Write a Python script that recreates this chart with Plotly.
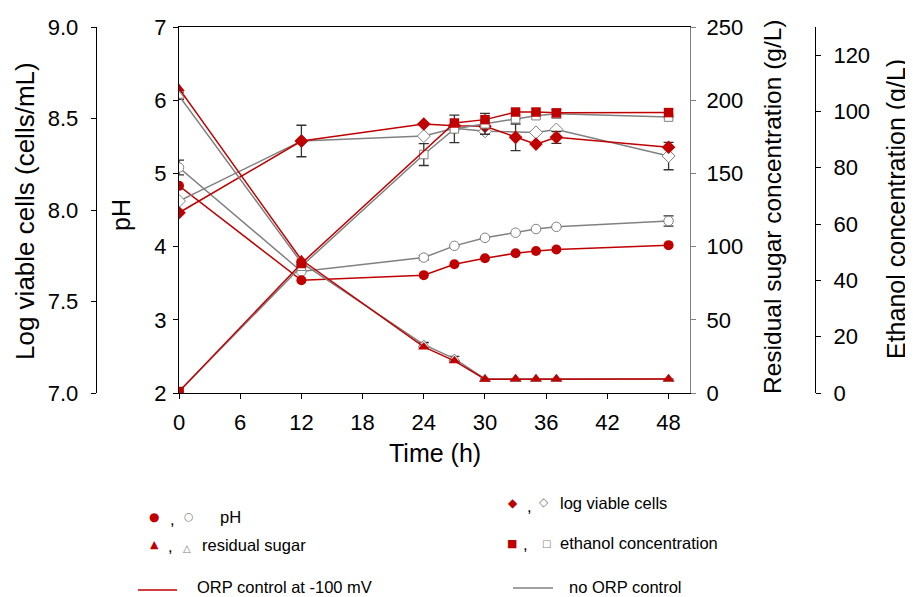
import plotly.graph_objects as go

# The page body adds an 8px margin, so the figure is sized to fit the rest
OFF = 8
W, H = 913 - OFF, 597 - OFF

# ---------------- data ----------------
time_h = [0, 12, 24, 27, 30, 33, 35, 37, 48]

ph_orp = [4.83, 3.54, 3.61, 3.76, 3.84, 3.91, 3.94, 3.96, 4.02]
ph_no = [5.08, 3.66, 3.85, 4.01, 4.12, 4.19, 4.24, 4.27, 4.35]
ph_no_err = [0.10, 0, 0.03, 0, 0, 0, 0, 0, 0.07]

sugar_orp = [208, 91, 31.5, 22, 9.4, 9.5, 9.5, 9.5, 9.5]
sugar_no = [203, 89, 33, 23.5, 9.6, 9.6, 9.6, 9.6, 9.6]
sugar_no_err = [2.5, 0, 1.5, 1.5, 0, 0, 0, 0, 0]

logc_orp = [7.985, 8.377, 8.47, 8.46, 8.457, 8.397, 8.36, 8.397, 8.343]
logc_orp_err = [0, 0.086, 0, 0, 0, 0.073, 0, 0.033, 0]
logc_no = [8.049, 8.377, 8.404, 8.447, 8.43, None, 8.424, 8.44, 8.295]
logc_no_err = [0, 0, 0, 0, 0, 0, 0, 0, 0.075]

eth_orp = [0.5, 46, None, 95.9, 97.1, 99.8, 99.8, 99.5, 99.6]
eth_no = [0.5, 45, 84.7, 93.8, 95.6, 97.4, 98.5, 99.2, 98.0]
eth_no_err = [0, 0, 3.9, 4.9, 3.7, 0, 0, 1.5, 0]

x_ticks = [0, 6, 12, 18, 24, 30, 36, 42, 48]

RED = "#C00000"
GRAY = "#808080"
ERR = "#333333"
FONT = "Liberation Sans, Arial, sans-serif"
SYM = "DejaVu Sans"


def px(x):
    return (x - OFF) / W


def py(y):
    return 1 - (y - OFF) / H


fig = go.Figure()


def add(y, yaxis, red, symbol, size, err=None):
    if red:
        marker = dict(color=RED, symbol=symbol, size=size, line=dict(width=0))
        line = dict(color=RED, width=1.5)
    else:
        marker = dict(color="white", symbol=symbol, size=size,
                      line=dict(color=GRAY, width=1))
        line = dict(color=GRAY, width=1.5)
    kw = {}
    if err is not None:
        kw["error_y"] = dict(type="data", array=err, visible=True,
                             color=ERR, thickness=1.3, width=5)
    fig.add_trace(go.Scatter(x=time_h, y=y, yaxis=yaxis, mode="lines+markers",
                             marker=marker, line=line, connectgaps=True,
                             showlegend=False, hoverinfo="skip", **kw))


# pH
add(ph_no, "y", False, "circle", 9.5, ph_no_err)
add(ph_orp, "y", True, "circle", 10)
# log viable cells
add(logc_no, "y2", False, "diamond", 10, logc_no_err)
add(logc_orp, "y2", True, "diamond", 10.5, logc_orp_err)
# residual sugar
add(sugar_no, "y3", False, "triangle-up", 9.5, sugar_no_err)
add(sugar_orp, "y3", True, "triangle-up", 10)
# ethanol
add(eth_no, "y4", False, "square", 8.5, eth_no_err)
add(eth_orp, "y4", True, "square", 9.5)

tickfont = dict(family=FONT, size=22, color="black")
x0, x1 = px(179), px(690)
y0, y1 = py(393), py(27)

fig.update_layout(
    width=W, height=H,
    margin=dict(l=0, r=0, t=0, b=0, autoexpand=False),
    paper_bgcolor="white", plot_bgcolor="white",
    font=dict(family=FONT, color="black"),
    xaxis=dict(domain=[x0, x1], range=[0, 50.1], tickvals=x_ticks,
               ticks="outside", ticklen=5, tickcolor="black",
               showline=True, linecolor="black", linewidth=1.2, mirror=True,
               showgrid=False, zeroline=False, tickfont=tickfont,
               ticklabelstandoff=4),
    yaxis=dict(domain=[y0, y1], range=[2, 7], dtick=1,
               ticks="outside", ticklen=5, tickcolor="black",
               showline=True, linecolor="black", linewidth=1.2,
               showgrid=False, zeroline=False, tickfont=tickfont,
               ticklabelstandoff=2),
    yaxis2=dict(overlaying="y", anchor="free", position=px(95.7), side="left",
                range=[7, 9], dtick=0.5, tickformat=".1f",
                ticks="outside", ticklen=5, tickcolor="black",
                showline=True, linecolor="black", linewidth=1,
                showgrid=False, zeroline=False, tickfont=tickfont,
                ticklabelstandoff=8),
    yaxis3=dict(overlaying="y", anchor="x", side="right",
                range=[0, 250], dtick=50,
                ticks="outside", ticklen=5, tickcolor=GRAY,
                showline=True, linecolor=GRAY, linewidth=1.2,
                showgrid=False, zeroline=False, tickfont=tickfont,
                ticklabelstandoff=6),
    yaxis4=dict(overlaying="y", anchor="free", position=px(815), side="right",
                range=[0, 130], tickvals=[0, 20, 40, 60, 80, 100, 120],
                ticks="outside", ticklen=5, tickcolor="black",
                showline=True, linecolor="black", linewidth=1,
                showgrid=False, zeroline=False, tickfont=tickfont,
                ticklabelstandoff=8),
)

ann = []


def text(x, y, s, size=25, angle=0, xanchor="center", color="black", family=FONT):
    ann.append(dict(x=px(x), y=py(y), xref="paper", yref="paper", text=s,
                    showarrow=False, textangle=angle, xanchor=xanchor,
                    yanchor="middle", font=dict(family=family, size=size, color=color)))


# axis titles
text(25, 211, "Log viable cells (cells/mL)", size=26)
ann[-1]["textangle"] = -90
text(121, 215, "pH", angle=-90)
text(773, 207, "Residual sugar concentration (g/L)", angle=-90, size=24.5)
text(896, 209, "Ethanol concentration (g/L)", angle=-90, size=25)
text(435, 453, "Time (h)")

# legend
LS = 16.5
text(154, 517, "●", size=12, color=RED, family=SYM)
text(172, 519, ",", size=LS)
text(189, 516, "○", size=11, color=GRAY, family=SYM)
text(218, 517, "pH", size=LS, xanchor="left")

text(154, 544, "▲", size=11, color=RED, family=SYM)
text(170, 546, ",", size=LS)
text(187, 548, "△", size=10, color=GRAY, family=SYM)
text(200, 545, "residual sugar", size=LS, xanchor="left")

text(513, 503, "◆", size=12, color=RED, family=SYM)
text(529, 506, ",", size=LS)
text(544, 502, "◇", size=12, color=GRAY, family=SYM)
text(558, 503, "log viable cells", size=LS, xanchor="left")

text(512, 543, "■", size=11, color=RED, family=SYM)
text(525, 544, ",", size=LS)
text(546, 543, "□", size=10, color=GRAY, family=SYM)
text(558, 543, "ethanol concentration", size=LS, xanchor="left")

text(195, 587, "ORP control at -100 mV", size=LS, xanchor="left")
text(567, 587, "no ORP control", size=LS, xanchor="left")

fig.update_layout(annotations=ann, shapes=[
    dict(type="line", xref="paper", yref="paper", x0=px(138), x1=px(177),
         y0=py(590), y1=py(590), line=dict(color=RED, width=1.5)),
    dict(type="line", xref="paper", yref="paper", x0=px(513), x1=px(553),
         y0=py(588), y1=py(588), line=dict(color=GRAY, width=1.5)),
])

fig.write_html("out.html")
